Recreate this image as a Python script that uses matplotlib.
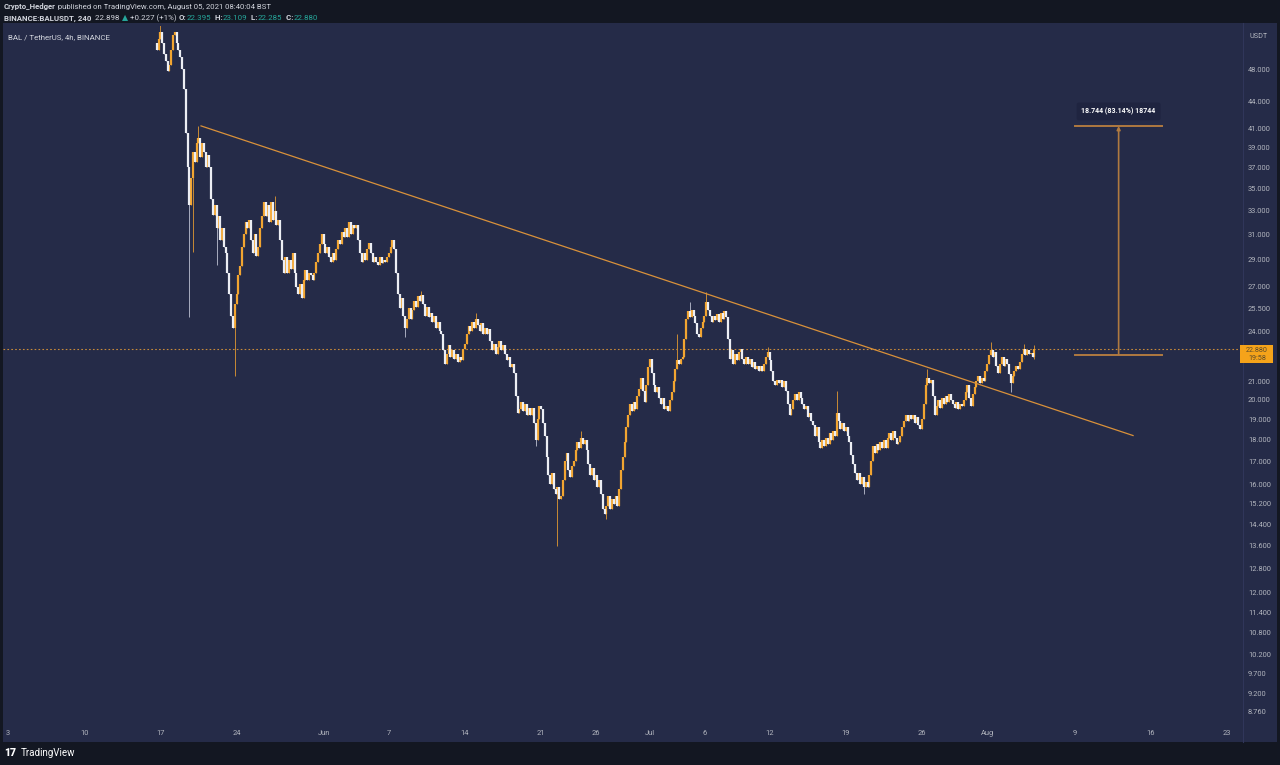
import matplotlib
matplotlib.use("Agg")
import matplotlib.pyplot as plt
import matplotlib.dates as mdates
import numpy as np
import pandas as pd
from matplotlib.patches import Rectangle
from matplotlib.ticker import FixedLocator, NullLocator

plt.rcParams["font.family"] = ["Roboto", "DejaVu Sans"]

# ---- data (BAL/USDT 4h candles, closes) ----
first_time = "2021-05-16 16:00"
first_open = 51.5
closes = [
    50.5, 52.0,                               # May 16 (16h, 20h)
    53.0, 51.5, 50.0, 49.0, 47.8, 48.5,       # May 17
    50.5, 52.5, 53.0, 51.5, 50.5, 49.5,       # May 18
    48.0, 45.5, 40.5, 37.0, 33.5, 36.0,       # May 19
    38.5, 37.5, 39.5, 40.0, 38.0, 39.5,       # May 20
    38.5, 37.0, 38.2, 37.0, 34.0, 32.6,       # May 21
    33.5, 31.5, 32.5, 30.5, 31.5, 30.0,       # May 22
    29.5, 28.0, 26.5, 25.0, 24.2, 25.8,       # May 23
    26.5, 27.8, 28.5, 30.0, 31.0, 32.0,       # May 24
    31.5, 32.2, 30.5, 29.5, 31.0, 29.3,       # May 25
    30.0, 31.5, 32.5, 33.8, 32.5, 33.5,       # May 26
    32.0, 33.8, 32.2, 33.0, 31.8, 32.2,       # May 27
    30.5, 29.0, 28.0, 29.2, 28.0, 29.0,       # May 28
    28.3, 29.5, 28.0, 27.0, 26.5, 27.2,       # May 29
    26.2, 27.5, 28.2, 27.5, 28.0, 27.8,       # May 30
    27.5, 28.0, 28.8, 29.5, 30.2, 31.0,       # May 31
    30.2, 29.5, 30.0, 29.2, 28.8, 29.5,       # Jun 1
    29.0, 29.8, 30.5, 30.2, 31.2, 30.8,       # Jun 2
    31.5, 30.8, 32.0, 31.0, 31.8, 31.5,       # Jun 3
    31.8, 30.5, 29.5, 28.8, 29.5, 29.0,       # Jun 4
    29.8, 30.3, 29.5, 28.8, 29.2, 28.8,       # Jun 5
    28.6, 29.2, 28.7, 29.0, 28.8, 29.2,       # Jun 6
    29.5, 30.0, 30.5, 29.8, 28.0, 26.5,       # Jun 7
    25.5, 26.2, 25.0, 24.2, 24.8, 25.5,       # Jun 8
    24.8, 25.4, 26.0, 25.6, 26.3, 26.0,       # Jun 9
    26.4, 25.8, 25.0, 25.6, 24.9, 25.2,       # Jun 10
    24.6, 25.0, 24.2, 24.6, 24.0, 23.8,       # Jun 11
    22.8, 22.0, 22.6, 23.1, 22.4, 22.8,       # Jun 12
    22.3, 22.6, 22.1, 22.4, 22.2, 22.9,       # Jun 13
    23.2, 23.8, 24.3, 24.0, 24.6, 24.2,       # Jun 14
    24.8, 24.4, 24.0, 24.5, 23.8, 24.2,       # Jun 15
    23.8, 24.1, 23.4, 22.8, 23.2, 22.6,       # Jun 16
    23.0, 23.4, 22.8, 23.1, 22.6, 22.2,       # Jun 17
    22.4, 21.8, 22.0, 21.5, 20.2, 19.3,       # Jun 18
    19.5, 19.9, 19.4, 19.8, 19.2, 19.6,       # Jun 19
    19.2, 19.6, 18.8, 18.0, 19.0, 19.7,       # Jun 20
    19.5, 18.8, 18.2, 17.2, 16.4, 16.0,       # Jun 21
    16.5, 15.8, 15.6, 15.9, 15.4, 15.5,       # Jun 22
    16.2, 17.0, 17.4, 16.6, 16.3, 16.8,       # Jun 23
    17.0, 17.5, 17.9, 17.6, 18.1, 17.8,       # Jun 24
    18.0, 17.5, 16.9, 16.4, 16.7, 16.2,       # Jun 25
    16.4, 15.9, 16.2, 15.6, 15.0, 14.8,       # Jun 26
    15.1, 15.5, 15.0, 15.4, 15.2, 15.5,       # Jun 27
    15.1, 15.8, 16.6, 17.2, 17.9, 18.6,       # Jun 28
    19.2, 19.8, 19.4, 19.9, 19.5, 20.2,       # Jun 29
    20.6, 21.2, 20.5, 19.9, 20.8, 21.8,       # Jun 30
    22.3, 21.5, 20.8, 20.4, 20.7, 20.1,       # Jul 1
    19.8, 20.1, 19.5, 19.7, 19.4, 20.0,       # Jul 2
    20.4, 21.0, 21.7, 22.2, 22.0, 22.3,       # Jul 3
    22.4, 23.5, 24.8, 25.3, 24.9, 25.4,       # Jul 4
    25.0, 24.5, 23.8, 23.6, 24.2, 24.6,       # Jul 5
    25.0, 25.9, 25.4, 25.0, 24.6, 25.0,       # Jul 6
    24.7, 25.1, 24.6, 25.2, 24.8, 25.3,       # Jul 7
    24.9, 23.5, 22.3, 22.8, 22.0, 22.6,       # Jul 8
    22.2, 22.7, 22.9, 22.3, 22.0, 22.4,       # Jul 9
    22.0, 22.3, 21.8, 22.1, 21.7, 21.9,       # Jul 10
    21.6, 21.9, 21.6, 22.0, 22.4, 22.7,       # Jul 11
    22.2, 21.6, 21.0, 20.8, 21.1, 20.9,       # Jul 12
    21.1, 20.7, 21.0, 20.5, 19.8, 19.2,       # Jul 13
    19.5, 20.0, 20.3, 20.0, 20.4, 20.1,       # Jul 14
    19.8, 19.5, 19.7, 19.1, 19.3, 18.9,       # Jul 15
    18.7, 18.2, 18.6, 17.9, 17.6, 18.0,       # Jul 16
    17.7, 18.1, 17.8, 18.3, 18.0, 18.4,       # Jul 17
    18.2, 19.3, 18.9, 18.5, 18.8, 18.4,       # Jul 18
    18.6, 18.2, 17.9, 17.3, 16.9, 16.5,       # Jul 19
    16.2, 16.5, 16.0, 16.3, 15.9, 16.1,       # Jul 20
    15.9, 16.4, 17.0, 17.7, 17.4, 17.8,       # Jul 21
    17.5, 17.9, 17.6, 18.0, 17.6, 18.1,       # Jul 22
    18.3, 18.0, 18.4, 18.1, 17.8, 17.9,       # Jul 23
    18.2, 18.6, 18.9, 19.2, 18.9, 19.2,       # Jul 24
    19.0, 19.2, 18.8, 19.1, 18.7, 18.5,       # Jul 25
    19.0, 19.8, 20.8, 21.2, 20.9, 21.1,       # Jul 26
    20.2, 19.2, 19.7, 20.0, 19.6, 20.1,       # Jul 27
    19.8, 20.2, 19.9, 20.3, 20.0, 19.8,       # Jul 28
    19.6, 19.9, 19.5, 19.8, 19.7, 20.0,       # Jul 29
    20.4, 20.8, 20.1, 19.7, 20.3, 20.7,       # Jul 30
    21.0, 21.3, 20.9, 21.2, 21.0, 21.6,       # Jul 31
    22.0, 22.5, 22.8, 22.4, 22.7, 21.9,       # Aug 1
    21.5, 22.0, 22.4, 21.9, 22.3, 22.0,       # Aug 2
    21.4, 20.9, 21.3, 21.6, 21.9, 21.7,       # Aug 3
    22.1, 22.6, 22.9, 22.5, 22.8, 22.6,       # Aug 4
    22.65, 22.395, 22.88,                     # Aug 5
]
# long wicks that stick out of the bodies
wick_highs = {
    "2021-05-17 00:00": 54.5, "2021-05-20 12:00": 41.3, "2021-05-27 12:00": 34.3,
    "2021-06-10 00:00": 26.7, "2021-06-15 00:00": 25.2, "2021-06-24 16:00": 18.4,
    "2021-07-03 12:00": 23.8, "2021-07-04 16:00": 25.9, "2021-07-06 04:00": 26.6,
    "2021-07-11 20:00": 23.0, "2021-07-18 04:00": 20.5, "2021-07-26 12:00": 21.7,
    "2021-08-01 08:00": 23.3, "2021-08-04 08:00": 23.2, "2021-08-05 08:00": 23.109,
}
wick_lows = {
    "2021-05-19 16:00": 24.9, "2021-05-20 00:00": 29.6, "2021-05-22 04:00": 28.6,
    "2021-05-23 20:00": 21.3, "2021-06-08 12:00": 23.6, "2021-06-20 12:00": 17.7,
    "2021-06-22 12:00": 13.6, "2021-06-27 00:00": 14.6, "2021-07-20 16:00": 15.6,
    "2021-08-03 04:00": 20.4, "2021-08-05 08:00": 22.285,
}
last_price = 22.880

price_ticks = [48, 44, 41, 39, 37, 35, 33, 31, 29, 27, 25.5, 24, 21, 20, 19, 18, 17,
               16, 15.2, 14.4, 13.6, 12.8, 12, 11.4, 10.8, 10.2, 9.7, 9.2, 8.76]
date_ticks = ["2021-05-03", "2021-05-10", "2021-05-17", "2021-05-24", "2021-06-01",
              "2021-06-07", "2021-06-14", "2021-06-21", "2021-06-26", "2021-07-01",
              "2021-07-06", "2021-07-12", "2021-07-19", "2021-07-26", "2021-08-01",
              "2021-08-09", "2021-08-16", "2021-08-23"]
date_labels = ["3", "10", "17", "24", "Jun", "7", "14", "21", "26", "Jul",
               "6", "12", "19", "26", "Aug", "9", "16", "23"]

trend_dates = ["2021-05-20 17:45", "2021-08-14 09:30"]
trend_prices = [41.3, 18.2]
measure_dates = ["2021-08-09 01:40", "2021-08-13 01:40", "2021-08-17 01:40"]
measure_prices = [22.545, 41.289]
measure_label = "18.744 (83.14%) 18744"

# ---- colours ----
DARK = "#131722"
NAVY = "#252b48"
UP = "#f2a531"
DOWN = "#eceef4"
UP_WICK = "#c98a35"
DOWN_WICK = "#a9adbf"
LINE = "#d9913a"
TXT = "#d1d4dc"
AXT = "#b2b5be"
GREEN = "#26a69a"

W, H = 1280, 765
fig = plt.figure(figsize=(12.8, 7.65), dpi=100, facecolor=DARK)


def fx(px):
    return px / W


def fy(py):
    return 1 - py / H


# navy chart panel (behind the axes)
fig.patches.append(Rectangle((fx(3), fy(742)), fx(1277) - fx(3), fy(23) - fy(742),
                             transform=fig.transFigure, facecolor=NAVY,
                             edgecolor="none", zorder=-5))
fig.add_artist(plt.Line2D([fx(1243), fx(1243)], [fy(742), fy(23)],
                          transform=fig.transFigure, color="#30365a", lw=0.8, zorder=-4))

ax = fig.add_axes([fx(3), fy(725), fx(1243) - fx(3), fy(26) - fy(725)])
ax.set_zorder(1)
ax.patch.set_visible(False)
for s in ax.spines.values():
    s.set_visible(False)

# candles
times = pd.date_range(first_time, periods=len(closes), freq="4h")
x = mdates.date2num(times)
c = np.array(closes)
o = np.r_[first_open, c[:-1]]
hi = np.maximum(o, c)
lo = np.minimum(o, c)
for k, v in wick_highs.items():
    hi[times.get_loc(pd.Timestamp(k))] = v
for k, v in wick_lows.items():
    lo[times.get_loc(pd.Timestamp(k))] = v
up = c >= o
ax.vlines(x[up], lo[up], hi[up], color=UP_WICK, lw=0.7, zorder=2)
ax.vlines(x[~up], lo[~up], hi[~up], color=DOWN_WICK, lw=0.7, zorder=2)
ax.vlines(x[up], o[up], c[up], color=UP, lw=1.6, zorder=3)
ax.vlines(x[~up], c[~up], o[~up], color=DOWN, lw=1.6, zorder=3)

# trend line and last price line
ax.plot(mdates.date2num(pd.to_datetime(trend_dates)), trend_prices, color=LINE, lw=0.9, zorder=4)
ax.axhline(last_price, color="#c88a3a", lw=0.8, ls=(0, (1.5, 2)), zorder=1)

# measure tool
md = mdates.date2num(pd.to_datetime(measure_dates))
for p in measure_prices:
    ax.plot([md[0], md[2]], [p, p], color="#b07a40", lw=1.4, zorder=4)
ax.annotate("", xy=(md[1], measure_prices[1]), xytext=(md[1], measure_prices[0]),
            arrowprops=dict(arrowstyle="-|>", color="#b07a40", lw=1.2,
                            mutation_scale=5, shrinkA=0, shrinkB=0), zorder=4)
ax.annotate(measure_label, xy=(md[1], measure_prices[1]), xytext=(0, 10.5),
            textcoords="offset points", ha="center", va="center", fontsize=5,
            fontweight="bold", color="white",
            bbox=dict(boxstyle="round,pad=0.7,rounding_size=0.3", fc="#1f2440", ec="none"))

# axes
base = mdates.date2num(pd.Timestamp("2021-05-03"))
ax.set_xlim(base - 0.46, base + 113.5)
ax.set_yscale("log")
ax.set_ylim(8.46, 53.8)
ax.yaxis.set_major_locator(FixedLocator(price_ticks))
ax.yaxis.set_minor_locator(NullLocator())
ax.set_yticklabels([f"{v:.3f}" for v in price_ticks])
ax.yaxis.tick_right()
ax.tick_params(axis="y", length=0, pad=3.5, labelsize=5.4, labelcolor=AXT)
ax.set_xticks(mdates.date2num(pd.to_datetime(date_ticks)))
ax.set_xticklabels(date_labels)
ax.xaxis.set_minor_locator(NullLocator())
ax.tick_params(axis="x", length=0, pad=3.5, labelsize=5.4, labelcolor=AXT)

# last price label on the price scale
fig.canvas.draw()
ypix = H - ax.transData.transform((x[-1], last_price))[1]
fig.patches.append(Rectangle((fx(1240), fy(ypix + 14)), fx(33), 18 / H,
                             transform=fig.transFigure, facecolor="#f5a31a",
                             edgecolor="none", zorder=5))
fig.text(fx(1257), fy(ypix + 1), "22.880", fontsize=5.2, color="#5b4a2b",
         ha="center", va="center", zorder=6)
fig.text(fx(1257), fy(ypix + 9), "19:58", fontsize=5.2, color="#5b4a2b",
         ha="center", va="center", zorder=6)

fig.text(fx(1250), fy(37), "USDT", fontsize=5.2, color=AXT, va="center")
fig.text(fx(8), fy(37), "BAL / TetherUS, 4h, BINANCE", fontsize=5.7, color=TXT,
         va="center", zorder=6)

# header lines
renderer = fig.canvas.get_renderer()


def runs(x0, y0, parts, size):
    xp = x0
    for txt, col, wt in parts:
        t = fig.text(fx(xp), fy(y0), txt, color=col, fontweight=wt, fontsize=size,
                     va="center", ha="left")
        xp += t.get_window_extent(renderer=renderer).width


runs(4, 6.5, [("Crypto_Hedger", TXT, "bold"),
              (" published on TradingView.com, August 05, 2021 08:40:04 BST", TXT, "normal")], 5.6)
runs(4, 18, [("BINANCE:BALUSDT, 240", TXT, "bold"), ("  22.898 ", TXT, "normal"),
             ("▲", GREEN, "normal"), (" +0.227 (+1%) ", TXT, "normal"),
             ("O:", TXT, "bold"), ("22.395", GREEN, "normal"),
             ("  H:", TXT, "bold"), ("23.109", GREEN, "normal"),
             ("  L:", TXT, "bold"), ("22.285", GREEN, "normal"),
             ("  C:", TXT, "bold"), ("22.880", GREEN, "normal")], 5.7)

# footer logo
fig.text(fx(4), fy(753), "17", fontsize=7.5, fontweight="heavy", color="white", va="center")
fig.text(fx(21), fy(753), "TradingView", fontsize=7, color="white", va="center")

fig.savefig("out.png", dpi=100, facecolor=DARK)
